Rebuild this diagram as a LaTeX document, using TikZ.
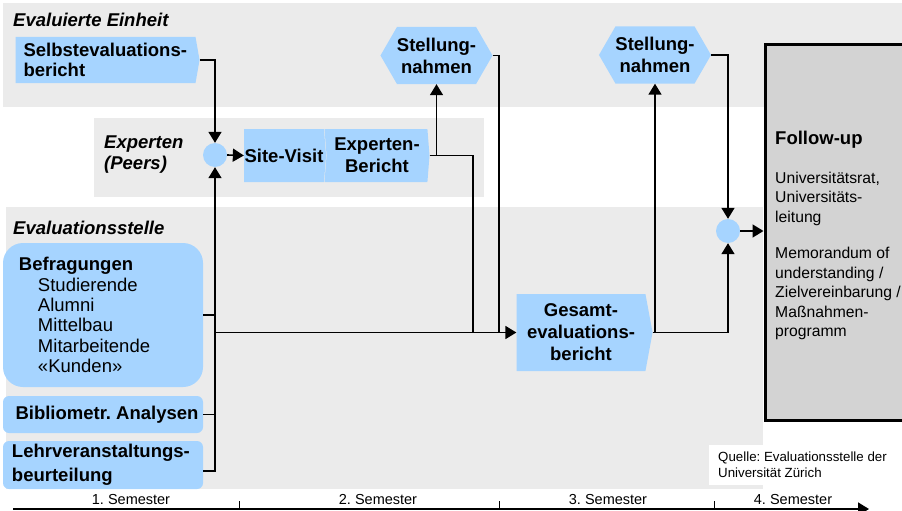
\documentclass[tikz,border=0pt]{standalone}
\usepackage{fontspec}
\setmainfont{Liberation Sans}
\usepackage{tikz}
\usetikzlibrary{arrows, arrows.meta, shapes, positioning}
\tikzset{>={Triangle[length=11pt,width=13pt]}}
\definecolor{boxblue}{RGB}{166,212,255}
\definecolor{bandgray}{RGB}{235,235,235}
\definecolor{fugray}{RGB}{211,211,211}
\frenchspacing

\tikzset{
  lbl/.style={font=\bfseries\fontsize{18.5}{22}\selectfont},
  bluebox/.style={lbl, fill=boxblue, inner sep=0pt},
  chevron/.style={bluebox, signal, signal to=east, signal pointer angle=#1},
  hexbox/.style={bluebox, signal, signal to=east and west, signal pointer angle=120,
    minimum width=111pt, minimum height=57pt, align=center},
  dot/.style={circle, fill=boxblue, minimum size=24pt, inner sep=0pt},
  heading/.style={font=\bfseries\itshape\fontsize{18.5}{21}\selectfont, anchor=base west, inner sep=0pt},
  flow/.style={line width=1.6pt},
  small/.style={font=\fontsize{14.5}{17}\selectfont, inner sep=0pt},
}

\begin{document}
\begin{tikzpicture}[x=1pt, y=-1pt]
  \useasboundingbox (0,0) rectangle (902,511);
  % bands
  \fill[bandgray] (3,3) rectangle (902,107);
  \fill[bandgray] (94,118) rectangle (484,197);
  \fill[bandgray] (6,207) rectangle (763,489);

  \node[heading] (hEinheit) at (13,27) {Evaluierte Einheit};
  \node[heading, anchor=north west, align=left] (hPeers) at (104,135.3) {Experten\\(Peers)};
  \node[heading] (hStelle) at (13,234) {Evaluationsstelle};

  % evaluierte Einheit / Experten
  \node[chevron=160, text width=164pt, align=left, inner xsep=8pt, minimum height=46pt,
    font=\bfseries\fontsize{18.5}{20}\selectfont] (selbst) at (105.5,60) {Selbstevaluations-\\bericht};
  \node[hexbox] (stellA) at (436.5,55.5) {Stellung-\\nahmen};
  \node[hexbox] (stellB) at (655,55) {Stellung-\\nahmen};
  \node[dot] (dotA) at (215,155) {};
  \node[chevron=171, minimum width=82pt, minimum height=53pt] (site) at (284,155.5) {Site-Visit};
  \node[chevron=171, signal from=west, minimum width=105pt, minimum height=53pt,
    align=center] (bericht) at (377,155.5) {Experten-\\Bericht};
  \node[chevron=159, minimum width=136pt, minimum height=77pt, align=center] (gesamt)
    at (581,332.5) {Gesamt-\\evaluations-\\bericht};
  \node[dot] (dotB) at (728,231) {};

  % Evaluationsstelle
  \node[bluebox, rounded corners=20pt, minimum width=200pt, minimum height=144pt,
    text width=168pt, inner xsep=16pt, align=left, font=\fontsize{18.5}{20.3}\selectfont]
    (befr) at (103,315) {\textbf{Befragungen}\\\hspace*{19pt}Studierende\\\hspace*{19pt}Alumni\\
    \hspace*{19pt}Mittelbau\\\hspace*{19pt}Mitarbeitende\\\hspace*{19pt}«Kunden»};
  \node[bluebox, rounded corners=6pt, minimum width=200pt, minimum height=37pt] (biblio)
    at (103,414.5) {\hspace*{8pt}Bibliometr. Analysen};
  \node[bluebox, rounded corners=6pt, minimum width=200pt, minimum height=48pt,
    text width=182pt, inner xsep=9pt, align=left, font=\bfseries\fontsize{18.5}{24}\selectfont]
    (lehr) at (103,465) {Lehrveranstaltungs-\\beurteilung};

  % Follow-up
  \node[draw, line width=3pt, fill=fugray, minimum width=150pt, minimum height=375pt,
    anchor=north west] (fu) at (763.5,43.5) {};
  \node[lbl, anchor=north west, inner sep=0pt] (fuTitle) at (775,131) {Follow-up};
  \node[anchor=north west, inner sep=0pt, align=left, font=\fontsize{15.7}{19.5}\selectfont]
    (fuText) at (775,171.5) {Universitätsrat,\\Universitäts-\\leitung\\[17pt]Memorandum of\\
    understanding /\\Zielvereinbarung /\\Maßnahmen-\\programm};
  \node[fill=white, anchor=north west, inner xsep=9pt, inner ysep=7pt, align=left,
    font=\fontsize{13.3}{16}\selectfont] (quelle) at (709,445)
    {Quelle: Evaluationsstelle der\\Universität Zürich};

  % connectors
  \draw[flow, ->] (selbst.east) -| (dotA.north);
  \draw[flow, ->] (dotA.east) -- (site.west);
  \draw[flow, ->] ([yshift=-6pt]lehr.east) -| (dotA.south);
  \draw[flow] (befr.east) -- (befr.east -| dotA);
  \draw[flow] (biblio.east) -- (biblio.east -| dotA);
  \draw[flow, ->] (gesamt.west -| dotA) -- (gesamt.west);
  \coordinate (jBericht) at (473,332.5);
  \coordinate (jStell) at (499,332.5);
  \draw[flow] (bericht.east) -| (jBericht);
  \draw[flow, ->] (bericht.east -| stellA.south) -- (stellA.south);
  \draw[flow] (stellA.east) -| (jStell);
  \draw[flow, ->] (gesamt.east) -| (stellB.south);
  \draw[flow, ->] (gesamt.east) -| (dotB.south);
  \draw[flow, ->] (stellB.east) -| (dotB.north);
  \draw[flow, ->] (dotB.east) -- (dotB -| fu.west);

  % time axis
  \coordinate (tStart) at (13,509);
  \coordinate (tEnd) at (869,509);
  \draw[flow, ->] (tStart) -- (tEnd);
  \foreach \x in {239,499,714} \draw[line width=0.8pt] (\x,509) -- (\x,501);
  \node[small, anchor=base] (semA) at (131,504.5) {1. Semester};
  \node[small, anchor=base] (semB) at (378,504.5) {2. Semester};
  \node[small, anchor=base] (semC) at (608,504.5) {3. Semester};
  \node[small, anchor=base] (semD) at (793,504.5) {4. Semester};
\end{tikzpicture}
\end{document}
